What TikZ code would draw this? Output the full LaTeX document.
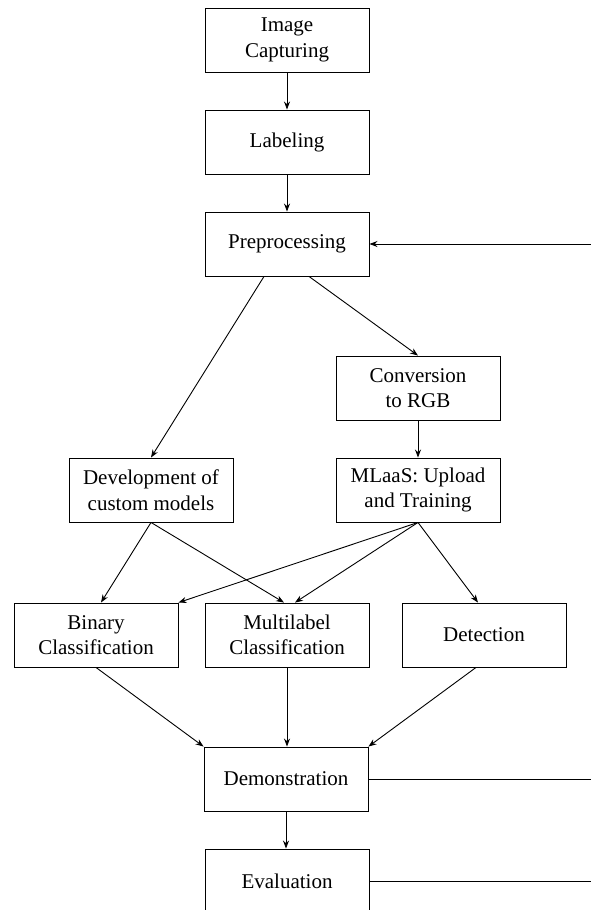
\documentclass[tikz,border=0pt]{standalone}
\usepackage{fontspec}
\setmainfont{Liberation Serif}
\usetikzlibrary{arrows.meta}
\begin{document}
\begin{tikzpicture}[x=1pt,y=-1pt,
  box/.style={draw, line width=0.9pt, minimum width=164pt, minimum height=64pt, inner sep=0pt,
    align=center, font=\fontsize{21}{25.5}\selectfont},
  arr/.style={line width=0.9pt, -{Stealth[length=8pt,width=6pt]}},
  ln/.style={line width=0.9pt}]
\useasboundingbox (0,0) rectangle (591,910);
\clip (0,0) rectangle (591,910);
\node[box] (ic) at (287,40) {Image\\Capturing};
\node[box] (lab) at (287,142) {Labeling};
\node[box] (pre) at (287,244) {Preprocessing};
\node[box] (conv) at (418,388) {Conversion\\to RGB};
\node[box] (dev) at (151,490) {Development of\\custom models};
\node[box] (mlaas) at (418,490) {MLaaS: Upload\\and Training};
\node[box] (bin) at (96,635) {Binary\\Classification};
\node[box] (multi) at (287,635) {Multilabel\\Classification};
\node[box] (det) at (484,635) {Detection};
\node[box] (demo) at (286,779) {Demonstration};
\node[box] (eval) at (287,881) {Evaluation};
\coordinate (inR) at (591,244);
\coordinate (demoR) at (591,779);
\coordinate (evalR) at (591,881);

\draw[arr] (ic) -- (lab);
\draw[arr] (lab) -- (pre);
\draw[arr] (inR) -- (pre.east);
\draw[arr] ([xshift=-23pt]pre.south) -- (dev.north);
\draw[arr] ([xshift=22pt]pre.south) -- (conv.north);
\draw[arr] (conv) -- (mlaas);
\draw[arr] (dev.south) -- ([xshift=5pt]bin.north);
\draw[arr] (dev.south) -- ([xshift=-3pt]multi.north);
\draw[arr] (mlaas.south) -- (bin.north east);
\draw[arr] (mlaas.south) -- ([xshift=8pt]multi.north);
\draw[arr] (mlaas.south) -- ([xshift=-6pt]det.north);
\draw[arr] (bin.south) -- (demo.north west);
\draw[arr] (multi.south) -- ([xshift=1pt]demo.north);
\draw[arr] ([xshift=-8pt]det.south) -- (demo.north east);
\draw[arr] (demo.south) -- ([xshift=-1pt]eval.north);
\draw[ln] (demo.east) -- (demoR);
\draw[ln] (eval.east) -- (evalR);
\end{tikzpicture}
\end{document}
